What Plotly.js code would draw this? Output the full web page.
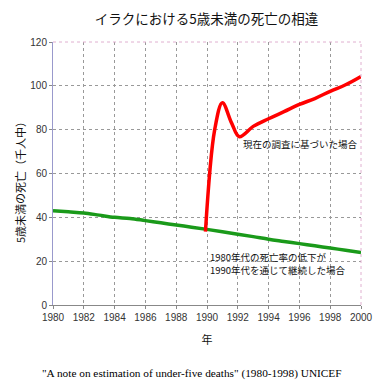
<!DOCTYPE html>
<html><head><meta charset="utf-8">
<script src="https://cdn.plot.ly/plotly-3.0.1.min.js"></script>
<style>body{margin:0;background:#fff}#c{width:392px;height:390px}</style>
</head><body><div id="c"></div>
<script>
const greenYears = [1980,1981,1982,1983,1984,1985,1986,1987,1988,1989,1990,1991,1992,1993,1994,1995,1996,1997,1998,1999,2000];
const greenValues = [43,42.5,42,41,40,39.5,38.5,37.5,36.5,35.5,34.5,33.4,32.3,31.2,30,29,28,27,26,25,24];
const redYears = [1989.9,1990.5,1991,1991.6,1992.1,1993,1994,1995,1996,1997,1998,1999,2000];
const redValues = [33.5,80,92.3,83,76.8,81.5,85,88.2,91.5,94.2,97.5,100.5,104.3];
const xTicks = [1980,1982,1984,1986,1988,1990,1992,1994,1996,1998,2000];
const yTicks = [0,20,40,60,80,100,120];

const jp = '"Noto Sans CJK JP", Arial, sans-serif';
const data = [
  {x: greenYears, y: greenValues, mode:'lines', line:{color:'#1a9a1a', width:3.5, shape:'spline'}, hoverinfo:'none'},
  {x: redYears, y: redValues, mode:'lines', line:{color:'#ff0000', width:3.5, shape:'spline', smoothing:1}, hoverinfo:'none'}
];
const pw = 392-53-31, ph = 390-42-85;
const layout = {
  width:392, height:390, showlegend:false,
  paper_bgcolor:'#fff', plot_bgcolor:'#fff',
  margin:{l:53, r:31, t:42, b:85},
  title:{text:'イラクにおける5歳未満の死亡の相違', font:{family:jp, size:13.5, color:'#111'}, x:0.527, xanchor:'center', y:0.95, yanchor:'middle'},
  xaxis:{range:[1980,2000], tickvals:xTicks, ticktext:xTicks.map(String), tickfont:{family:'Arial, sans-serif', size:10, color:'#333'},
    showgrid:true, gridcolor:'#999', griddash:'3px,3px', gridwidth:1, zeroline:false,
    showline:true, linecolor:'#888', ticks:'outside', ticklen:3, tickcolor:'#888',
    title:{text:'年', font:{family:jp, size:11, color:'#111'}, standoff:14}},
  yaxis:{range:[0,120], tickvals:yTicks, tickfont:{family:'Arial, sans-serif', size:10, color:'#333'},
    showgrid:true, gridcolor:'#999', griddash:'3px,3px', gridwidth:1, zeroline:false,
    showline:true, linecolor:'#9999cc', ticks:'outside', ticklen:3, tickcolor:'#888',
    title:{text:''}},
  shapes:[
    {type:'line', xref:'paper', yref:'paper', x0:0, x1:1, y0:1, y1:1, line:{color:'#e0b0d0', width:1, dash:'dot'}},
    {type:'line', xref:'paper', yref:'paper', x0:1, x1:1, y0:0, y1:1, line:{color:'#e0b0d0', width:1, dash:'dot'}}
  ],
  annotations:[
    {x:(20-53)/pw, y:(305-180)/ph, xref:'paper', yref:'paper', text:'5歳未満の死亡（千人中）', textangle:-90, showarrow:false, xanchor:'center', yanchor:'middle', font:{family:jp, size:11, color:'#111'}},
    {x:1992.2, y:73.5, xref:'x', yref:'y', text:'現在の調査に基づいた場合', showarrow:false, xanchor:'left', yanchor:'middle', font:{family:jp, size:9.5, color:'#111'}},
    {x:1990.05, y:21.8, xref:'x', yref:'y', text:'1980年代の死亡率の低下が', showarrow:false, xanchor:'left', yanchor:'middle', font:{family:jp, size:9.5, color:'#111'}},
    {x:1990.05, y:16.0, xref:'x', yref:'y', text:'1990年代を通じて継続した場合', showarrow:false, xanchor:'left', yanchor:'middle', font:{family:jp, size:9.5, color:'#111'}},
    {x:(40-53)/pw, y:(305-373)/ph, xref:'paper', yref:'paper', text:'"A note on estimation of under-five deaths" (1980-1998) UNICEF', showarrow:false, xanchor:'left', yanchor:'middle', font:{family:'"Liberation Serif", "Times New Roman", serif', size:11.3, color:'#000'}}
  ]
};
Plotly.newPlot('c', data, layout, {displayModeBar:false, staticPlot:true});
</script></body></html>
